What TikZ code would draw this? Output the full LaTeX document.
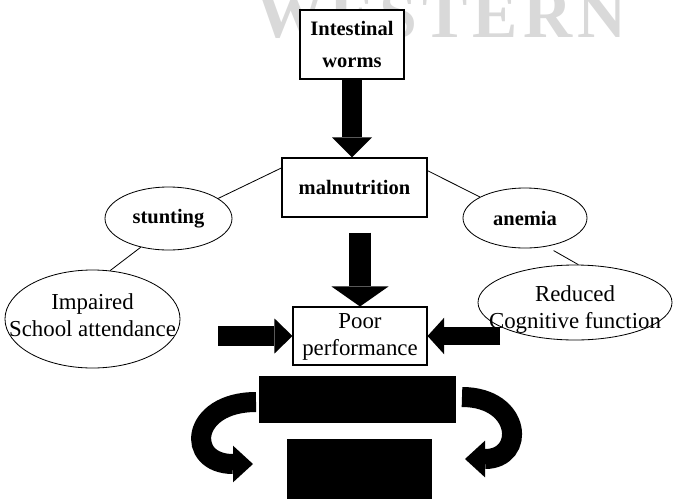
\documentclass[tikz,border=0pt]{standalone}
\usepackage{fontspec}
\setmainfont{Liberation Serif}
\usetikzlibrary{arrows.meta,shapes.geometric}

\begin{document}
\begin{tikzpicture}[x=0.03cm,y=-0.03cm,
    box/.style={draw,fill=white,line width=0.9pt,align=center,inner sep=0pt},
    blob/.style={draw,ellipse,line width=0.7pt,align=center,inner sep=0pt},
    bftext/.style={font=\bfseries\fontsize{17.5}{27}\selectfont},
    rmtext/.style={font=\fontsize{19.5}{23}\selectfont,align=center},
    slab/.style={fill=black,inner sep=0pt},
    link/.style={line width=0.7pt},
    fat/.style={line width=0.6cm,-{Triangle[width=1.2cm,length=0.6cm,line width=0pt]}},
    curly/.style={line width=0.6cm,-{Triangle[width=1.1cm,length=0.6cm,line width=0pt]}}
  ]
  \useasboundingbox (0,0) rectangle (673,498);
  \clip (0,0) rectangle (673,498);
  % Watermark
  \node[anchor=base west,inner sep=0pt,text=black!15,
    font=\bfseries\fontsize{58}{58}\selectfont\addfontfeature{LetterSpace=7.5}] (mark) at (256,37) {WESTERN};
  % Boxes
  \node[box,bftext,minimum width=3.12cm,minimum height=2.07cm] (worms) at (352,44.5) {Intestinal\\worms};
  \node[box,bftext,minimum width=4.35cm,minimum height=1.77cm] (mal) at (354.5,187.5) {malnutrition};
  \node[box,rmtext,minimum width=4.02cm,minimum height=1.74cm,text depth=3pt] (poor) at (360,336) {Poor\\performance};
  % Ellipses
  \node[blob,bftext,minimum width=3.81cm,minimum height=1.89cm] (stunt) at (168.5,218.5) {stunting};
  \node[blob,bftext,minimum width=3.72cm,minimum height=1.8cm] (anem) at (525,218) {anemia};
  \node[blob,minimum width=5.25cm,minimum height=2.94cm,
    label={[rmtext,yshift=3pt]center:Impaired\\School attendance}] (imp) at (92.5,319) {};
  \node[blob,minimum width=5.82cm,minimum height=2.25cm,
    label={[rmtext,yshift=-6pt]center:Reduced\\Cognitive function}] (red) at (575,302.5) {};
  % Black slabs
  \node[slab,minimum width=5.91cm,minimum height=1.41cm] (bar) at (357.5,399.5) {};
  \node[slab,minimum width=4.35cm,minimum height=1.83cm] (block) at (359.5,469.5) {};
  % Thin links
  \draw[link] (mal.165) -- (stunt.22);
  \draw[link] (stunt.226) -- (imp.70);
  \draw[link] (mal.13) -- (anem.155);
  \draw[link,shorten <=7pt] (anem.307) -- (red.85);
  % Block arrows
  \coordinate (lfrom) at (218,336);
  \coordinate (rfrom) at (500,336);
  \draw[fat] (worms.south) -- (worms.south |- mal.north);
  \draw[fat,line width=0.66cm,-{Triangle[width=1.71cm,length=0.6cm,line width=0pt]},shorten <=0.45cm]
    (poor.north |- mal.south) -- (poor.north);
  \draw[fat,-{Triangle[width=1.05cm,length=0.54cm,line width=0pt]}] (lfrom) -- (poor.west);
  \draw[fat,line width=0.54cm,-{Triangle[width=1.1cm,length=0.5cm,line width=0pt]}] (rfrom) -- (poor.east);
  % Curved arrows
  \coordinate (lcs) at (256,402);
  \coordinate (lce) at (253,464);
  \coordinate (rcs) at (462,397);
  \coordinate (rce) at (465,459);
  \draw[curly] (lcs) .. controls (190,402) and (185,464) .. (lce);
  \draw[curly] (rcs) .. controls (522,397) and (526,459) .. (rce);
\end{tikzpicture}
\end{document}
